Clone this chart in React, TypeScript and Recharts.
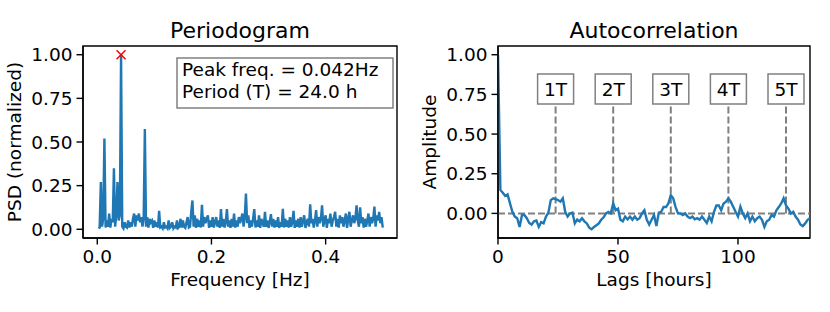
import { LineChart, Line, XAxis, YAxis, ReferenceArea, ReferenceLine, ReferenceDot } from "recharts"

const FONT = "DejaVu Sans"
const BLUE = "#1f77b4"
const GRAY = "#808080"

// periodogram, one value per frequency bin k/480 (k = 1..240)
const PSD = [
  0.005, 0.01, 0.27, 0.015, 0.06, 0.52, 0.01, 0.05, 0.015, 0.09, 0.01, 0.06, 0.04, 0.35, 0.015, 0.08, 0.27, 0.05, 0.08, 1.0,
  0.015, 0.005, 0.04, 0.015, 0.01, 0.05, 0.01, 0.04, 0.015, 0.06, 0.09, 0.015, 0.08, 0.05, 0.09, 0.04, 0.07, 0.015, 0.06, 0.575,
  0.015, 0.07, 0.01, 0.06, 0.04, 0.05, 0.008, 0.05, 0.015, 0.04, 0.01, 0.105, 0.01, 0.015, 0.005, 0.04, 0.01, 0.015, 0.005, 0.05,
  0.008, 0.015, 0.04, 0.005, 0.015, 0.01, 0.05, 0.008, 0.015, 0.06, 0.01, 0.05, 0.015, 0.008, 0.04, 0.07, 0.01, 0.015, 0.1, 0.165,
  0.015, 0.08, 0.008, 0.06, 0.015, 0.05, 0.01, 0.14, 0.015, 0.07, 0.035, 0.06, 0.08, 0.008, 0.05, 0.015, 0.07, 0.01, 0.04, 0.07,
  0.015, 0.05, 0.008, 0.115, 0.015, 0.06, 0.01, 0.04, 0.115, 0.015, 0.05, 0.008, 0.06, 0.015, 0.09, 0.01, 0.05, 0.015, 0.07, 0.035,
  0.06, 0.09, 0.015, 0.07, 0.205, 0.035, 0.08, 0.008, 0.05, 0.015, 0.06, 0.115, 0.01, 0.05, 0.015, 0.08, 0.008, 0.06, 0.035, 0.015,
  0.1, 0.015, 0.05, 0.008, 0.04, 0.087, 0.015, 0.06, 0.01, 0.05, 0.015, 0.07, 0.008, 0.04, 0.015, 0.117, 0.01, 0.06, 0.015, 0.05,
  0.01, 0.07, 0.015, 0.04, 0.105, 0.008, 0.05, 0.015, 0.06, 0.01, 0.07, 0.015, 0.05, 0.08, 0.008, 0.04, 0.06, 0.015, 0.143, 0.035,
  0.06, 0.01, 0.05, 0.11, 0.015, 0.07, 0.035, 0.06, 0.137, 0.015, 0.05, 0.08, 0.008, 0.06, 0.035, 0.09, 0.015, 0.05, 0.07, 0.1,
  0.015, 0.06, 0.01, 0.08, 0.035, 0.07, 0.015, 0.05, 0.09, 0.008, 0.06, 0.1, 0.015, 0.05, 0.08, 0.035, 0.06, 0.137, 0.05, 0.015,
  0.126, 0.035, 0.07, 0.01, 0.06, 0.015, 0.05, 0.09, 0.015, 0.07, 0.035, 0.06, 0.13, 0.015, 0.08, 0.05, 0.1, 0.035, 0.07, 0.01,
]
const N_HOURS = 480
const PEAK_FREQ = 1 / 24

// autocorrelation, lag 0..130 hours
const ACF = [
  1.0, 0.147, 0.13, 0.11, 0.12, 0.063, 0.01, -0.02, -0.03, -0.085,
  -0.01, -0.01, -0.03, -0.06, -0.07, -0.05, -0.045, -0.085, -0.055, -0.063,
  -0.02, 0.005, 0.084, 0.095, 0.09, 0.084, 0.074, 0.095, 0.01, -0.02,
  0.0, 0.005, -0.063, -0.038, -0.05, -0.03, -0.05, -0.063, -0.09, -0.1,
  -0.085, -0.075, -0.063, -0.04, -0.025, 0.0, 0.01, 0.0, 0.063, 0.02,
  0.03, -0.04, -0.05, -0.02, -0.038, -0.02, -0.04, -0.02, -0.04, -0.03,
  0.0, 0.02, -0.04, -0.07, -0.04, -0.01, -0.08, 0.005, 0.01, 0.04,
  0.04, 0.063, 0.115, 0.095, 0.04, 0.0, 0.0, -0.01, 0.0, -0.02,
  -0.03, -0.02, -0.037, -0.03, -0.04, -0.02, -0.04, -0.06, -0.02, -0.05,
  0.01, 0.05, 0.05, 0.02, 0.063, 0.074, 0.095, 0.074, 0.042, 0.01,
  -0.02, 0.042, 0.0, -0.03, 0.0, -0.05, -0.02, -0.05, -0.03, -0.02,
  -0.04, -0.085, -0.05, -0.04, -0.01, -0.02, 0.02, 0.04, 0.063, 0.095,
  0.05, 0.03, 0.0, 0.01, -0.02, -0.04, -0.07, -0.08, -0.063, -0.04,
  -0.03,
]
const PERIODS = [24, 48, 72, 96, 120]
const PERIOD_LABELS = ["1T", "2T", "3T", "4T", "5T"]

const PSD_TICKS_X = [0, 0.2, 0.4]
const Y_TICKS = [0, 0.25, 0.5, 0.75, 1]
const LAG_TICKS = [0, 50, 100]

const psdData = PSD.map((v, i) => ({ freq: (i + 1) / N_HOURS, psd: v }))
const acfData = ACF.map((v, i) => ({ lag: i, acf: v }))

const tickStyle = { fill: "#000", fontSize: 18.5, fontFamily: FONT }
const lineStyle = { stroke: "#000", strokeWidth: 1.4 }

function Cross(props: any) {
  const { cx, cy } = props
  const s = 4.5
  return (
    <g stroke="#ff0000" strokeWidth={1.5}>
      <line x1={cx - s} y1={cy - s} x2={cx + s} y2={cy + s} />
      <line x1={cx - s} y1={cy + s} x2={cx + s} y2={cy - s} />
    </g>
  )
}

function Periodogram() {
  return (
    <LineChart width={415} height={312} data={psdData} margin={{ top: 46, right: 18, bottom: 0, left: 0 }}>
      <XAxis
        dataKey="freq"
        type="number"
        domain={[-0.025, 0.525]}
        ticks={PSD_TICKS_X}
        tickFormatter={(v: number) => v.toFixed(1)}
        height={74}
        tick={tickStyle}
        tickLine={lineStyle}
        axisLine={lineStyle}
        tickSize={6.5}
        tickMargin={5.5}
        allowDataOverflow
      />
      <YAxis
        type="number"
        domain={[-0.05, 1.05]}
        ticks={Y_TICKS}
        tickFormatter={(v: number) => v.toFixed(2)}
        width={83}
        tick={tickStyle}
        tickLine={lineStyle}
        axisLine={lineStyle}
        tickSize={6.5}
        tickMargin={4}
        allowDataOverflow
      />
      <Line dataKey="psd" stroke={BLUE} strokeWidth={2.4} dot={false} isAnimationActive={false} />
      <ReferenceDot x={PEAK_FREQ} y={1} shape={Cross} />
      <ReferenceArea x1={-0.025} x2={0.525} y1={-0.05} y2={1.05} fill="none" stroke="#000" strokeWidth={1.4} />
    </LineChart>
  )
}

function Autocorrelation() {
  return (
    <LineChart width={415} height={312} data={acfData} margin={{ top: 46, right: 20, bottom: 0, left: 0 }}>
      <XAxis
        dataKey="lag"
        type="number"
        domain={[0, 130]}
        ticks={LAG_TICKS}
        height={74}
        tick={tickStyle}
        tickLine={lineStyle}
        axisLine={lineStyle}
        tickSize={6.5}
        tickMargin={5.5}
        allowDataOverflow
      />
      <YAxis
        type="number"
        domain={[-0.155, 1.055]}
        ticks={Y_TICKS}
        tickFormatter={(v: number) => v.toFixed(2)}
        width={83}
        tick={tickStyle}
        tickLine={lineStyle}
        axisLine={lineStyle}
        tickSize={6.5}
        tickMargin={4}
        allowDataOverflow
      />
      <ReferenceLine y={0} stroke={GRAY} strokeWidth={2} strokeDasharray="7 3" />
      {PERIODS.map((p) => (
        <ReferenceLine
          key={"l" + p}
          segment={[{ x: p, y: 0 }, { x: p, y: 0.69 }]}
          stroke={GRAY}
          strokeWidth={2}
          strokeDasharray="7 3"
        />
      ))}
      <Line dataKey="acf" stroke={BLUE} strokeWidth={2.4} dot={false} isAnimationActive={false} />
      {PERIODS.map((p, i) => (
        <ReferenceArea
          key={"b" + p}
          x1={p - 7.5}
          x2={p + 7.5}
          y1={0.69}
          y2={0.878}
          fill="#fff"
          fillOpacity={1}
          stroke={GRAY}
          strokeWidth={1.5}
          label={{ value: PERIOD_LABELS[i], position: "center", fill: "#000", fontSize: 18.5, fontFamily: FONT }}
        />
      ))}
      <ReferenceArea x1={0} x2={130} y1={-0.155} y2={1.055} fill="none" stroke="#000" strokeWidth={1.4} />
    </LineChart>
  )
}

export default function App() {
  return (
    <div style={{ position: "absolute", left: 0, top: 0, width: 830, height: 312, background: "#fff" }}>
      <div style={{ position: "absolute", left: 0, top: 0 }}>
        <Periodogram />
      </div>
      <div style={{ position: "absolute", left: 415, top: 0 }}>
        <Autocorrelation />
      </div>
      <svg
        width={830}
        height={312}
        style={{ position: "absolute", left: 0, top: 0, pointerEvents: "none" }}
        fontFamily={FONT}
      >
        <text x={240} y={38} fontSize={22} textAnchor="middle">Periodogram</text>
        <text x={654} y={38} fontSize={22} textAnchor="middle">Autocorrelation</text>
        <text x={240} y={286} fontSize={18.5} textAnchor="middle">Frequency [Hz]</text>
        <text x={654} y={286} fontSize={18.5} textAnchor="middle">Lags [hours]</text>
        <text x={21} y={142} fontSize={18.5} textAnchor="middle" transform="rotate(-90 21 142)">PSD (normalized)</text>
        <text x={436} y={142} fontSize={18.5} textAnchor="middle" transform="rotate(-90 436 142)">Amplitude</text>
        <rect x={177} y={58} width={216} height={50} fill="#fff" stroke={GRAY} strokeWidth={1.5} />
        <text x={182} y={76} fontSize={18.5}>Peak freq. = 0.042Hz</text>
        <text x={182} y={98} fontSize={18.5}>Period (T) = 24.0 h</text>
      </svg>
    </div>
  )
}
